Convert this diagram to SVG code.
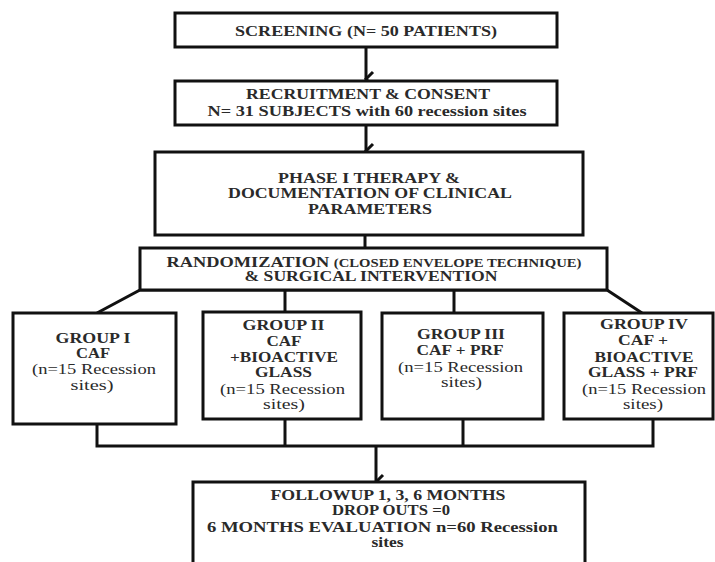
<svg xmlns="http://www.w3.org/2000/svg" width="715" height="562" viewBox="0 0 715 562">
<defs>
<marker id="ah" markerUnits="userSpaceOnUse" markerWidth="20" markerHeight="20" refX="10" refY="14" orient="auto-start-reverse" viewBox="0 0 20 20">
<path d="M3,7 L10,14 L17,7" fill="none" stroke="#111" stroke-width="3"/>
</marker>
<style>
.box{fill:#fff;stroke:#111;stroke-width:3}
.t{font-family:"Liberation Serif","Times New Roman",serif;font-weight:bold;font-size:15px;fill:#2a2a2a;text-anchor:middle}
.r{font-weight:normal}
.sm{font-size:12px}
.c{fill:none;stroke:#111;stroke-width:3}
</style>
</defs>
<rect width="715" height="562" fill="#fff"/>
<g id="connectors">
<line class="c" x1="366" y1="47" x2="366" y2="79" marker-end="url(#ah)"/>
<line class="c" x1="366" y1="125" x2="366" y2="151" marker-end="url(#ah)"/>
<line class="c" x1="365" y1="235" x2="365" y2="248"/>
<polyline class="c" points="97,313 140,290 607,290 642,313"/>
<line class="c" x1="285" y1="290" x2="285" y2="312"/>
<line class="c" x1="454" y1="290" x2="454" y2="313"/>
<polyline class="c" points="97,424 97,446 653,446 653,419"/>
<line class="c" x1="285" y1="419" x2="285" y2="446"/>
<line class="c" x1="463" y1="419" x2="463" y2="446"/>
<line class="c" x1="376" y1="446" x2="376" y2="482" marker-end="url(#ah)"/>
</g>
<g id="screening">
<rect class="box" x="175" y="13" width="382" height="34"/>
<text class="t" x="366" y="36" textLength="262" lengthAdjust="spacingAndGlyphs">SCREENING (N= 50 PATIENTS)</text>
</g>
<g id="recruitment">
<rect class="box" x="175" y="81" width="382" height="44"/>
<text class="t" x="368" y="99" textLength="244" lengthAdjust="spacingAndGlyphs">RECRUITMENT &amp; CONSENT</text>
<text class="t" x="367" y="116" textLength="319" lengthAdjust="spacingAndGlyphs">N= 31 SUBJECTS with 60 recession sites</text>
</g>
<g id="phase1">
<rect class="box" x="155" y="152" width="428" height="83"/>
<text class="t" x="369" y="183" textLength="182" lengthAdjust="spacingAndGlyphs">PHASE I THERAPY  &amp;</text>
<text class="t" x="370" y="198" textLength="284" lengthAdjust="spacingAndGlyphs">DOCUMENTATION OF CLINICAL</text>
<text class="t" x="370" y="214" textLength="124" lengthAdjust="spacingAndGlyphs">PARAMETERS</text>
</g>
<g id="randomization">
<rect class="box" x="140" y="248" width="467" height="42"/>
<text class="t" x="374" y="267" textLength="415" lengthAdjust="spacingAndGlyphs">RANDOMIZATION <tspan class="sm">(CLOSED ENVELOPE TECHNIQUE)</tspan></text>
<text class="t" x="371" y="281" textLength="253" lengthAdjust="spacingAndGlyphs">&amp; SURGICAL INTERVENTION</text>
</g>
<g id="group1">
<rect class="box" x="13" y="313" width="163" height="111"/>
<text class="t" x="93" y="343" textLength="75" lengthAdjust="spacingAndGlyphs">GROUP I</text>
<text class="t" x="93" y="358" textLength="34" lengthAdjust="spacingAndGlyphs">CAF</text>
<text class="t r" x="94" y="374" textLength="124" lengthAdjust="spacingAndGlyphs">(n=15 Recession</text>
<text class="t r" x="92" y="390" textLength="43" lengthAdjust="spacingAndGlyphs">sites)</text>
</g>
<g id="group2">
<rect class="box" x="203" y="312" width="158" height="107"/>
<text class="t" x="283.5" y="330" textLength="82" lengthAdjust="spacingAndGlyphs">GROUP II</text>
<text class="t" x="284" y="346" textLength="35" lengthAdjust="spacingAndGlyphs">CAF</text>
<text class="t" x="284" y="362" textLength="108" lengthAdjust="spacingAndGlyphs">+BIOACTIVE</text>
<text class="t" x="283.5" y="377" textLength="57" lengthAdjust="spacingAndGlyphs">GLASS</text>
<text class="t r" x="282.5" y="394" textLength="125" lengthAdjust="spacingAndGlyphs">(n=15 Recession</text>
<text class="t r" x="284" y="409" textLength="42" lengthAdjust="spacingAndGlyphs">sites)</text>
</g>
<g id="group3">
<rect class="box" x="382" y="313" width="161" height="106"/>
<text class="t" x="461" y="339" textLength="88" lengthAdjust="spacingAndGlyphs">GROUP III</text>
<text class="t" x="460" y="355" textLength="87" lengthAdjust="spacingAndGlyphs">CAF + PRF</text>
<text class="t r" x="460.5" y="372" textLength="125" lengthAdjust="spacingAndGlyphs">(n=15 Recession</text>
<text class="t r" x="461.5" y="387" textLength="41" lengthAdjust="spacingAndGlyphs">sites)</text>
</g>
<g id="group4">
<rect class="box" x="564" y="313" width="149" height="106"/>
<text class="t" x="644" y="329" textLength="88" lengthAdjust="spacingAndGlyphs">GROUP IV</text>
<text class="t" x="643" y="345" textLength="50" lengthAdjust="spacingAndGlyphs">CAF +</text>
<text class="t" x="644" y="362" textLength="99" lengthAdjust="spacingAndGlyphs">BIOACTIVE</text>
<text class="t" x="643" y="377" textLength="110" lengthAdjust="spacingAndGlyphs">GLASS + PRF</text>
<text class="t r" x="644" y="394" textLength="124" lengthAdjust="spacingAndGlyphs">(n=15 Recession</text>
<text class="t r" x="643" y="409" textLength="40" lengthAdjust="spacingAndGlyphs">sites)</text>
</g>
<g id="followup">
<rect class="box" x="193" y="482" width="392" height="90"/>
<text class="t" x="388" y="500" textLength="235" lengthAdjust="spacingAndGlyphs">FOLLOWUP 1, 3, 6 MONTHS</text>
<text class="t" x="391" y="515" textLength="118" lengthAdjust="spacingAndGlyphs">DROP OUTS =0</text>
<text class="t" x="382.5" y="532" textLength="351" lengthAdjust="spacingAndGlyphs">6 MONTHS EVALUATION n=60 Recession</text>
<text class="t" x="387.5" y="547" textLength="32" lengthAdjust="spacingAndGlyphs">sites</text>
</g>
</svg>
